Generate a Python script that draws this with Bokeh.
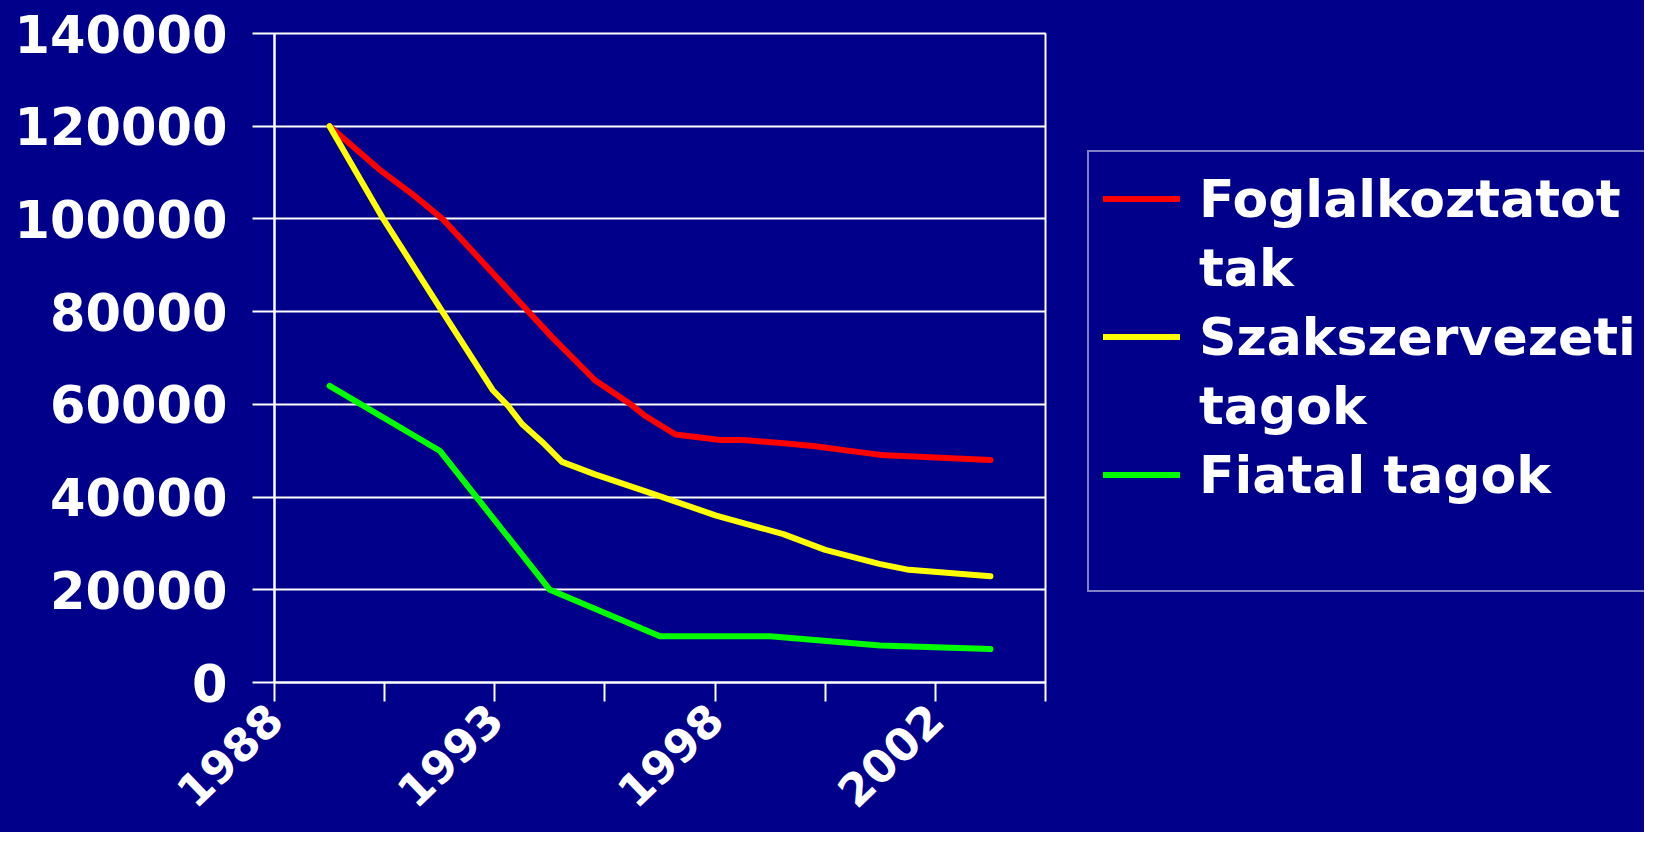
import math
from bokeh.plotting import figure
from bokeh.layouts import row
from bokeh.models import FixedTicker, Legend, LegendItem, Range1d
from bokeh.embed import file_html
from bokeh.resources import INLINE

# ---- data (x in category-slot units, ticks at 0..7) ----
x_tick_positions = [0, 1, 2, 3, 4, 5, 6, 7]
x_tick_labels = ["1988", "", "1993", "", "1998", "", "2002", ""]

y_ticks = [0, 20000, 40000, 60000, 80000, 100000, 120000, 140000]
y_tick_labels = ["0", "20000", "40000", "60000", "80000", "100000", "120000", "140000"]

foglalkoztatottak_x = [0.50, 0.95, 1.26, 1.53, 2.52, 2.91, 3.24, 3.36, 3.64, 4.05, 4.26, 4.62, 4.89, 5.50, 6.50]
foglalkoztatottak_y = [120000, 110700, 105200, 99900, 74500, 65200, 59900, 57600, 53500, 52300, 52300, 51600, 51000, 49100, 48000]

szakszervezeti_x = [0.50, 0.99, 1.53, 1.98, 2.12, 2.25, 2.43, 2.61, 2.91, 3.45, 4.01, 4.62, 5.00, 5.49, 5.76, 6.50]
szakszervezeti_y = [120000, 99900, 79800, 63100, 59700, 55700, 51900, 47600, 44900, 40600, 36000, 32000, 28600, 25600, 24300, 22900]

fiatal_x = [0.50, 1.50, 2.50, 3.50, 4.50, 5.50, 6.50]
fiatal_y = [64000, 50000, 20000, 10000, 10000, 8000, 7200]

# legend text, one entry per printed line (None = line without a key)
legend_lines = ["Foglalkoztatot", "tak", "Szakszervezeti", "tagok", "Fiatal tagok", " "]
legend_series = [0, None, 1, None, 2, None]
series_colors = ["#FF0000", "#FFFF00", "#00FF00"]

BG = "#00008A"
FONT = "DejaVu Sans"

series = [(foglalkoztatottak_x, foglalkoztatottak_y),
          (szakszervezeti_x, szakszervezeti_y),
          (fiatal_x, fiatal_y)]

# ---------------- main chart ----------------
p = figure(width=1065, height=832, output_backend="svg", toolbar_location=None,
           x_range=Range1d(0, 7), y_range=Range1d(0, 140000),
           min_border_left=274, min_border_right=20, min_border_top=33, min_border_bottom=150)
p.background_fill_color = BG
p.border_fill_color = BG
p.outline_line_color = "white"
p.outline_line_width = 2

for (xs, ys), c in zip(series, series_colors):
    p.line(xs, ys, line_color=c, line_width=6, line_cap="round", line_join="round")

p.xaxis.ticker = FixedTicker(ticks=x_tick_positions)
p.xaxis.major_label_overrides = {t: l for t, l in zip(x_tick_positions, x_tick_labels)}
p.xaxis.major_label_orientation = math.radians(44)
p.yaxis.ticker = FixedTicker(ticks=y_ticks)
p.yaxis.major_label_overrides = {t: l for t, l in zip(y_ticks, y_tick_labels)}

for ax in (p.xaxis, p.yaxis):
    ax.axis_line_color = "white"
    ax.axis_line_width = 2
    ax.major_tick_line_color = "white"
    ax.major_tick_line_width = 2
    ax.major_tick_in = 0
    ax.minor_tick_line_color = None
    ax.major_label_text_color = "white"
    ax.major_label_text_font = FONT
    ax.major_label_text_font_style = "bold"
p.yaxis.major_label_text_font_size = "51px"
p.xaxis.major_label_text_font_size = "45px"
p.xaxis.major_tick_out = 19
p.yaxis.major_tick_out = 22
p.xaxis.major_label_standoff = 10
p.yaxis.major_label_standoff = 25

p.xgrid.visible = False
p.ygrid.ticker = FixedTicker(ticks=y_ticks)
p.ygrid.grid_line_color = "white"
p.ygrid.grid_line_width = 2

# ---------------- legend panel (key lines lie outside its view) ----------------
lg = figure(width=579, height=832, output_backend="svg", toolbar_location=None,
            x_range=Range1d(-20, -10), y_range=Range1d(-20, -10),
            x_axis_type=None, y_axis_type=None, min_border=0)
lg.background_fill_alpha = 0
lg.border_fill_color = BG
lg.outline_line_color = None

items = []
for text, s in zip(legend_lines, legend_series):
    if s is None:
        r = lg.line(series[0][0], series[0][1], line_alpha=0)
    else:
        r = lg.line(series[s][0], series[s][1], line_color=series_colors[s],
                    line_width=6, line_cap="round")
    items.append(LegendItem(label=text, renderers=[r]))

legend = Legend(items=items, location=(22, 90))
legend.background_fill_alpha = 0
legend.border_line_color = "white"
legend.border_line_width = 2
legend.label_text_color = "white"
legend.label_text_font = FONT
legend.label_text_font_style = "bold"
legend.label_text_font_size = "52px"
legend.label_height = 65
legend.glyph_width = 77
legend.glyph_height = 65
legend.label_standoff = 19
legend.padding = 14
legend.spacing = 4
legend.margin = 0
lg.add_layout(legend, "center")

layout = row(p, lg, spacing=0, styles={"background-color": BG})
open("out.html", "w").write(file_html(layout, INLINE))
